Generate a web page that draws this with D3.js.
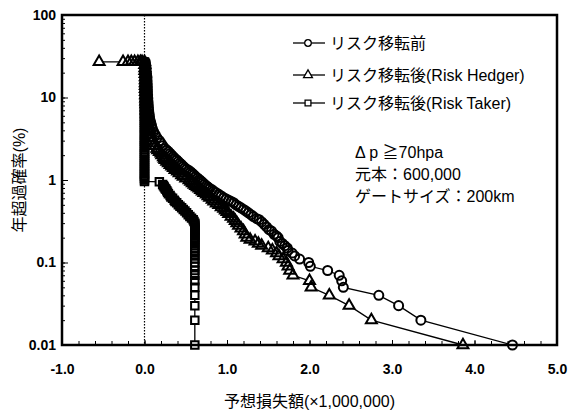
<!DOCTYPE html>
<html>
<head>
<meta charset="utf-8">
<script src="https://cdn.jsdelivr.net/npm/d3@7"></script>
<style>
  body { margin: 0; background: #fff; }
  svg { font-family: "Liberation Sans", "Noto Sans CJK JP", sans-serif; }
</style>
</head>
<body>
<svg></svg>
<script>
// [loss (x1,000,000), annual exceedance probability (%)]
var beforeTransfer = [
  [0.01, 27], [0.015, 24.8], [0.02, 22.8], [0.02, 21], [0.025, 19.3], [0.03, 17.7], [0.03, 16.3],
  [0.032, 15], [0.034, 13.8], [0.035, 12.7], [0.036, 11.7], [0.038, 10.7], [0.04, 9.8], [0.042, 9],
  [0.045, 8.3], [0.048, 7.6], [0.05, 7], [0.055, 6.4], [0.06, 5.9], [0.065, 5.4], [0.075, 5.0],
  [0.085, 4.6], [0.095, 4.2], [0.11, 3.85], [0.13, 3.55], [0.15, 3.25], [0.18, 3.0], [0.2, 2.8],
  [0.22, 2.6], [0.25, 2.4], [0.27, 2.3], [0.29, 2.2], [0.31, 2.1], [0.33, 2.0], [0.35, 1.9],
  [0.37, 1.82], [0.39, 1.75], [0.41, 1.67], [0.43, 1.6], [0.45, 1.53], [0.47, 1.46], [0.49, 1.4],
  [0.51, 1.35], [0.54, 1.3], [0.56, 1.25], [0.58, 1.2], [0.6, 1.15], [0.62, 1.1], [0.645, 1.05],
  [0.67, 1.0], [0.69, 0.96], [0.71, 0.92], [0.73, 0.88], [0.75, 0.85], [0.77, 0.82], [0.79, 0.79],
  [0.82, 0.76], [0.84, 0.73], [0.87, 0.7], [0.9, 0.67], [0.93, 0.64], [0.96, 0.61], [0.99, 0.59],
  [1.02, 0.57], [1.05, 0.55], [1.08, 0.53], [1.11, 0.5], [1.14, 0.48], [1.17, 0.46], [1.2, 0.44],
  [1.23, 0.42], [1.26, 0.4], [1.29, 0.38], [1.32, 0.36], [1.36, 0.34], [1.39, 0.33], [1.42, 0.31],
  [1.45, 0.29], [1.48, 0.27], [1.51, 0.25], [1.54, 0.24], [1.57, 0.22], [1.6, 0.21], [1.62, 0.2],
  [1.64, 0.18], [1.67, 0.17], [1.70, 0.16], [1.73, 0.15], [1.74, 0.14], [1.79, 0.13], [1.82, 0.12],
  [1.88, 0.11], [1.99, 0.10], [2.01, 0.09], [2.22, 0.08], [2.36, 0.07], [2.39, 0.06], [2.41, 0.05],
  [2.84, 0.04], [3.08, 0.03], [3.35, 0.02], [4.46, 0.01]
];

var riskHedger = [
  [-0.55, 27], [-0.26, 27], [-0.2, 27], [-0.16, 27], [-0.12, 27], [-0.08, 27], [-0.05, 27], [-0.03, 27],
  [0, 27], [0.003, 24.8], [0.005, 22.8], [0.005, 21], [0.008, 19.3], [0.01, 17.7], [0.01, 16.3],
  [0.01, 15], [0.01, 13.8], [0.01, 12.7], [0.012, 11.7], [0.013, 10.7], [0.015, 9.8], [0.016, 9],
  [0.018, 8.3], [0.02, 7.6], [0.02, 7], [0.025, 6.4], [0.028, 5.9], [0.03, 5.4], [0.035, 5.0],
  [0.04, 4.6], [0.05, 4.2], [0.06, 3.85], [0.07, 3.55], [0.08, 3.25], [0.1, 3.0], [0.12, 2.8],
  [0.13, 2.6], [0.15, 2.4], [0.16, 2.3], [0.18, 2.2], [0.2, 2.1], [0.21, 2.0], [0.23, 1.9],
  [0.24, 1.82], [0.25, 1.75], [0.27, 1.67], [0.29, 1.6], [0.31, 1.53], [0.33, 1.46], [0.35, 1.4],
  [0.37, 1.33], [0.4, 1.27], [0.42, 1.21], [0.45, 1.15], [0.47, 1.1], [0.5, 1.05], [0.54, 1.0],
  [0.56, 0.96], [0.58, 0.92], [0.6, 0.88], [0.62, 0.85], [0.64, 0.82], [0.66, 0.79], [0.68, 0.76],
  [0.7, 0.73], [0.72, 0.7], [0.75, 0.67], [0.77, 0.64], [0.79, 0.61], [0.82, 0.58], [0.84, 0.55],
  [0.87, 0.52], [0.9, 0.5], [0.93, 0.47], [0.96, 0.45], [0.98, 0.43], [1.0, 0.41], [1.02, 0.39],
  [1.05, 0.36], [1.08, 0.34], [1.1, 0.32], [1.12, 0.3], [1.14, 0.28], [1.17, 0.26], [1.2, 0.24],
  [1.22, 0.22], [1.24, 0.2], [1.28, 0.19], [1.34, 0.18], [1.38, 0.17], [1.42, 0.16], [1.5, 0.15],
  [1.55, 0.14], [1.6, 0.13], [1.63, 0.12], [1.68, 0.11], [1.72, 0.10], [1.74, 0.09], [1.76, 0.08],
  [1.80, 0.07], [2.0, 0.06], [2.02, 0.05], [2.24, 0.04], [2.48, 0.03], [2.75, 0.02], [3.86, 0.01]
];

var riskTaker = [
  [0, 27], [0, 25.5], [0, 24], [0, 22.7], [0, 21.4], [0, 20.2], [0, 19], [0, 18], [0, 17], [0, 16],
  [0, 15.1], [0, 14.2], [0, 13.4], [0, 12.6], [0, 11.9], [0, 11.2], [0, 10.6], [0, 10], [0, 9.4],
  [0, 8.9], [0, 8.4], [0, 7.9], [0, 7.5], [0, 7.1], [0, 6.7], [0, 6.3], [0, 5.9], [0, 5.6], [0, 5.3],
  [0, 5.0], [0, 4.7], [0, 4.4], [0, 4.2], [0, 3.95], [0, 3.7], [0, 3.5], [0, 3.3], [0, 3.1],
  [0, 2.95], [0, 2.8], [0, 2.6], [0, 2.5], [0, 2.35], [0, 2.2], [0, 2.1], [0, 1.98], [0, 1.87],
  [0, 1.76], [0, 1.66], [0, 1.57], [0, 1.48], [0, 1.4], [0, 1.32], [0, 1.25], [0, 1.18], [0, 1.11],
  [0, 1.05], [0, 1.0], [0, 0.96], [0.18, 0.95],
  [0.22, 0.88], [0.23, 0.85], [0.24, 0.82], [0.25, 0.79], [0.26, 0.77], [0.27, 0.74], [0.28, 0.71],
  [0.29, 0.68], [0.31, 0.65], [0.32, 0.62], [0.34, 0.6], [0.36, 0.57], [0.37, 0.55], [0.39, 0.53],
  [0.41, 0.5], [0.43, 0.48], [0.45, 0.46], [0.47, 0.44], [0.49, 0.42], [0.51, 0.40], [0.53, 0.38],
  [0.55, 0.36], [0.57, 0.345], [0.59, 0.33], [0.6, 0.315], [0.61, 0.30],
  [0.61, 0.29], [0.61, 0.28], [0.61, 0.27], [0.61, 0.26], [0.61, 0.25], [0.61, 0.24], [0.61, 0.23],
  [0.61, 0.22], [0.61, 0.21], [0.61, 0.20], [0.61, 0.19], [0.61, 0.18], [0.61, 0.17], [0.61, 0.16],
  [0.61, 0.15], [0.61, 0.14], [0.61, 0.13], [0.61, 0.12], [0.61, 0.11], [0.61, 0.10], [0.61, 0.09],
  [0.61, 0.08], [0.61, 0.07], [0.61, 0.06], [0.61, 0.05], [0.61, 0.04], [0.61, 0.03], [0.61, 0.02],
  [0.61, 0.01]
];

var seriesNames = ["リスク移転前", "リスク移転後(Risk Hedger)", "リスク移転後(Risk Taker)"];
var noteLines = ["Δ p ≧70hpa", "元本：600,000", "ゲートサイズ：200km"];
var xTicks = [-1, 0, 1, 2, 3, 4, 5];
var yTicks = [0.01, 0.1, 1, 10, 100];

var svgWidth = 578, svgHeight = 414;
var margin = {top: 15, right: 21, bottom: 69, left: 62},
    width = svgWidth - margin.left - margin.right,
    height = svgHeight - margin.top - margin.bottom;

var svg = d3.select("svg").attr("width", svgWidth).attr("height", svgHeight);
var g = svg.append("g").attr("transform", "translate(" + margin.left + "," + margin.top + ")");

var xScale = d3.scaleLinear().domain([-1, 5]).range([0, width]);
var yScale = d3.scaleLog().domain([0.01, 100]).range([height, 0]);

// minor ticks (inside)
g.append("g")
  .attr("transform", "translate(0," + height + ")")
  .call(d3.axisBottom(xScale).tickValues(d3.range(-1, 5.01, 0.2)).tickSize(-4).tickFormat(""))
  .call(function(a) { a.select(".domain").remove(); });

g.append("g")
  .call(d3.axisLeft(yScale).tickValues(yScale.ticks()).tickSize(-3).tickFormat(""))
  .call(function(a) { a.select(".domain").remove(); });

// main axes
var xAxis = g.append("g")
  .attr("transform", "translate(0," + height + ")")
  .call(d3.axisBottom(xScale).tickValues(xTicks).tickSize(-5).tickPadding(19)
    .tickFormat(function(d) { return d.toFixed(1); }));
xAxis.select(".domain").remove();
xAxis.selectAll("text").style("font-size", "14px").style("font-weight", "bold").attr("fill", "#000");

var yAxis = g.append("g")
  .call(d3.axisLeft(yScale).tickValues(yTicks).tickSize(-6).tickPadding(6).tickFormat(function(d) { return String(d); }));
yAxis.select(".domain").remove();
yAxis.selectAll("text").style("font-size", "14px").style("font-weight", "bold").attr("fill", "#000");

// zero line
g.append("line")
  .attr("x1", xScale(0)).attr("x2", xScale(0))
  .attr("y1", 0).attr("y2", height)
  .attr("stroke", "#000").attr("stroke-width", 1.2)
  .attr("stroke-dasharray", "1.5,1.5");

var line = d3.line()
  .x(function(d) { return xScale(d[0]); })
  .y(function(d) { return yScale(d[1]); });

var symbols = [d3.symbolCircle, d3.symbolTriangle, d3.symbolSquare];
var symSizes = [64, 52, 56];
var allSeries = [beforeTransfer, riskHedger, riskTaker];

function placeMark(d) {
  return "translate(" + xScale(d[0]) + "," + yScale(d[1]) + ")";
}

allSeries.forEach(function(data, i) {
  g.append("path")
    .datum(data)
    .attr("d", line)
    .attr("fill", "none")
    .attr("stroke", "#000")
    .attr("stroke-width", 1.3);
});

// white fills first, outlines on top so crowded marks pile up black
allSeries.forEach(function(data, i) {
  g.append("g").selectAll("path")
    .data(data)
    .enter()
    .append("path")
    .attr("transform", placeMark)
    .attr("d", d3.symbol().type(symbols[i]).size(symSizes[i]))
    .attr("fill", "#fff");
});
allSeries.forEach(function(data, i) {
  g.append("g").selectAll("path")
    .data(data)
    .enter()
    .append("path")
    .attr("transform", placeMark)
    .attr("d", d3.symbol().type(symbols[i]).size(symSizes[i]))
    .attr("fill", "none")
    .attr("stroke", "#000")
    .attr("stroke-width", 2);
});

// frame
g.append("rect")
  .attr("width", width).attr("height", height)
  .attr("fill", "none").attr("stroke", "#000").attr("stroke-width", 2.5);

// legend
var legend = g.append("g").attr("transform", "translate(231,28)");
seriesNames.forEach(function(name, i) {
  var row = legend.append("g").attr("transform", "translate(0," + [0, 32, 60][i] + ")");
  row.append("line").attr("x1", 0).attr("x2", 32).attr("stroke", "#000").attr("stroke-width", 1.3);
  row.append("path")
    .attr("transform", "translate(15,0)")
    .attr("d", d3.symbol().type(symbols[i]).size(34))
    .attr("fill", "#fff").attr("stroke", "#000").attr("stroke-width", 1.3);
  row.append("text")
    .attr("x", 37).attr("y", 0).attr("dy", "0.35em")
    .style("font-size", "16px")
    .text(name);
});

// note
noteLines.forEach(function(t, i) {
  g.append("text")
    .attr("x", 293).attr("y", 137 + i * 22).attr("dy", "0.35em")
    .style("font-size", "16px")
    .text(t);
});

// axis titles
svg.append("text")
  .attr("x", margin.left + width / 2).attr("y", 401).attr("dy", "0.35em")
  .attr("text-anchor", "middle")
  .style("font-size", "16px")
  .text("予想損失額(×1,000,000)");

svg.append("text")
  .attr("transform", "translate(19," + (margin.top + height / 2) + ") rotate(-90)")
  .attr("dy", "0.35em")
  .attr("text-anchor", "middle")
  .style("font-size", "16px")
  .text("年超過確率(%)");
</script>
</body>
</html>
